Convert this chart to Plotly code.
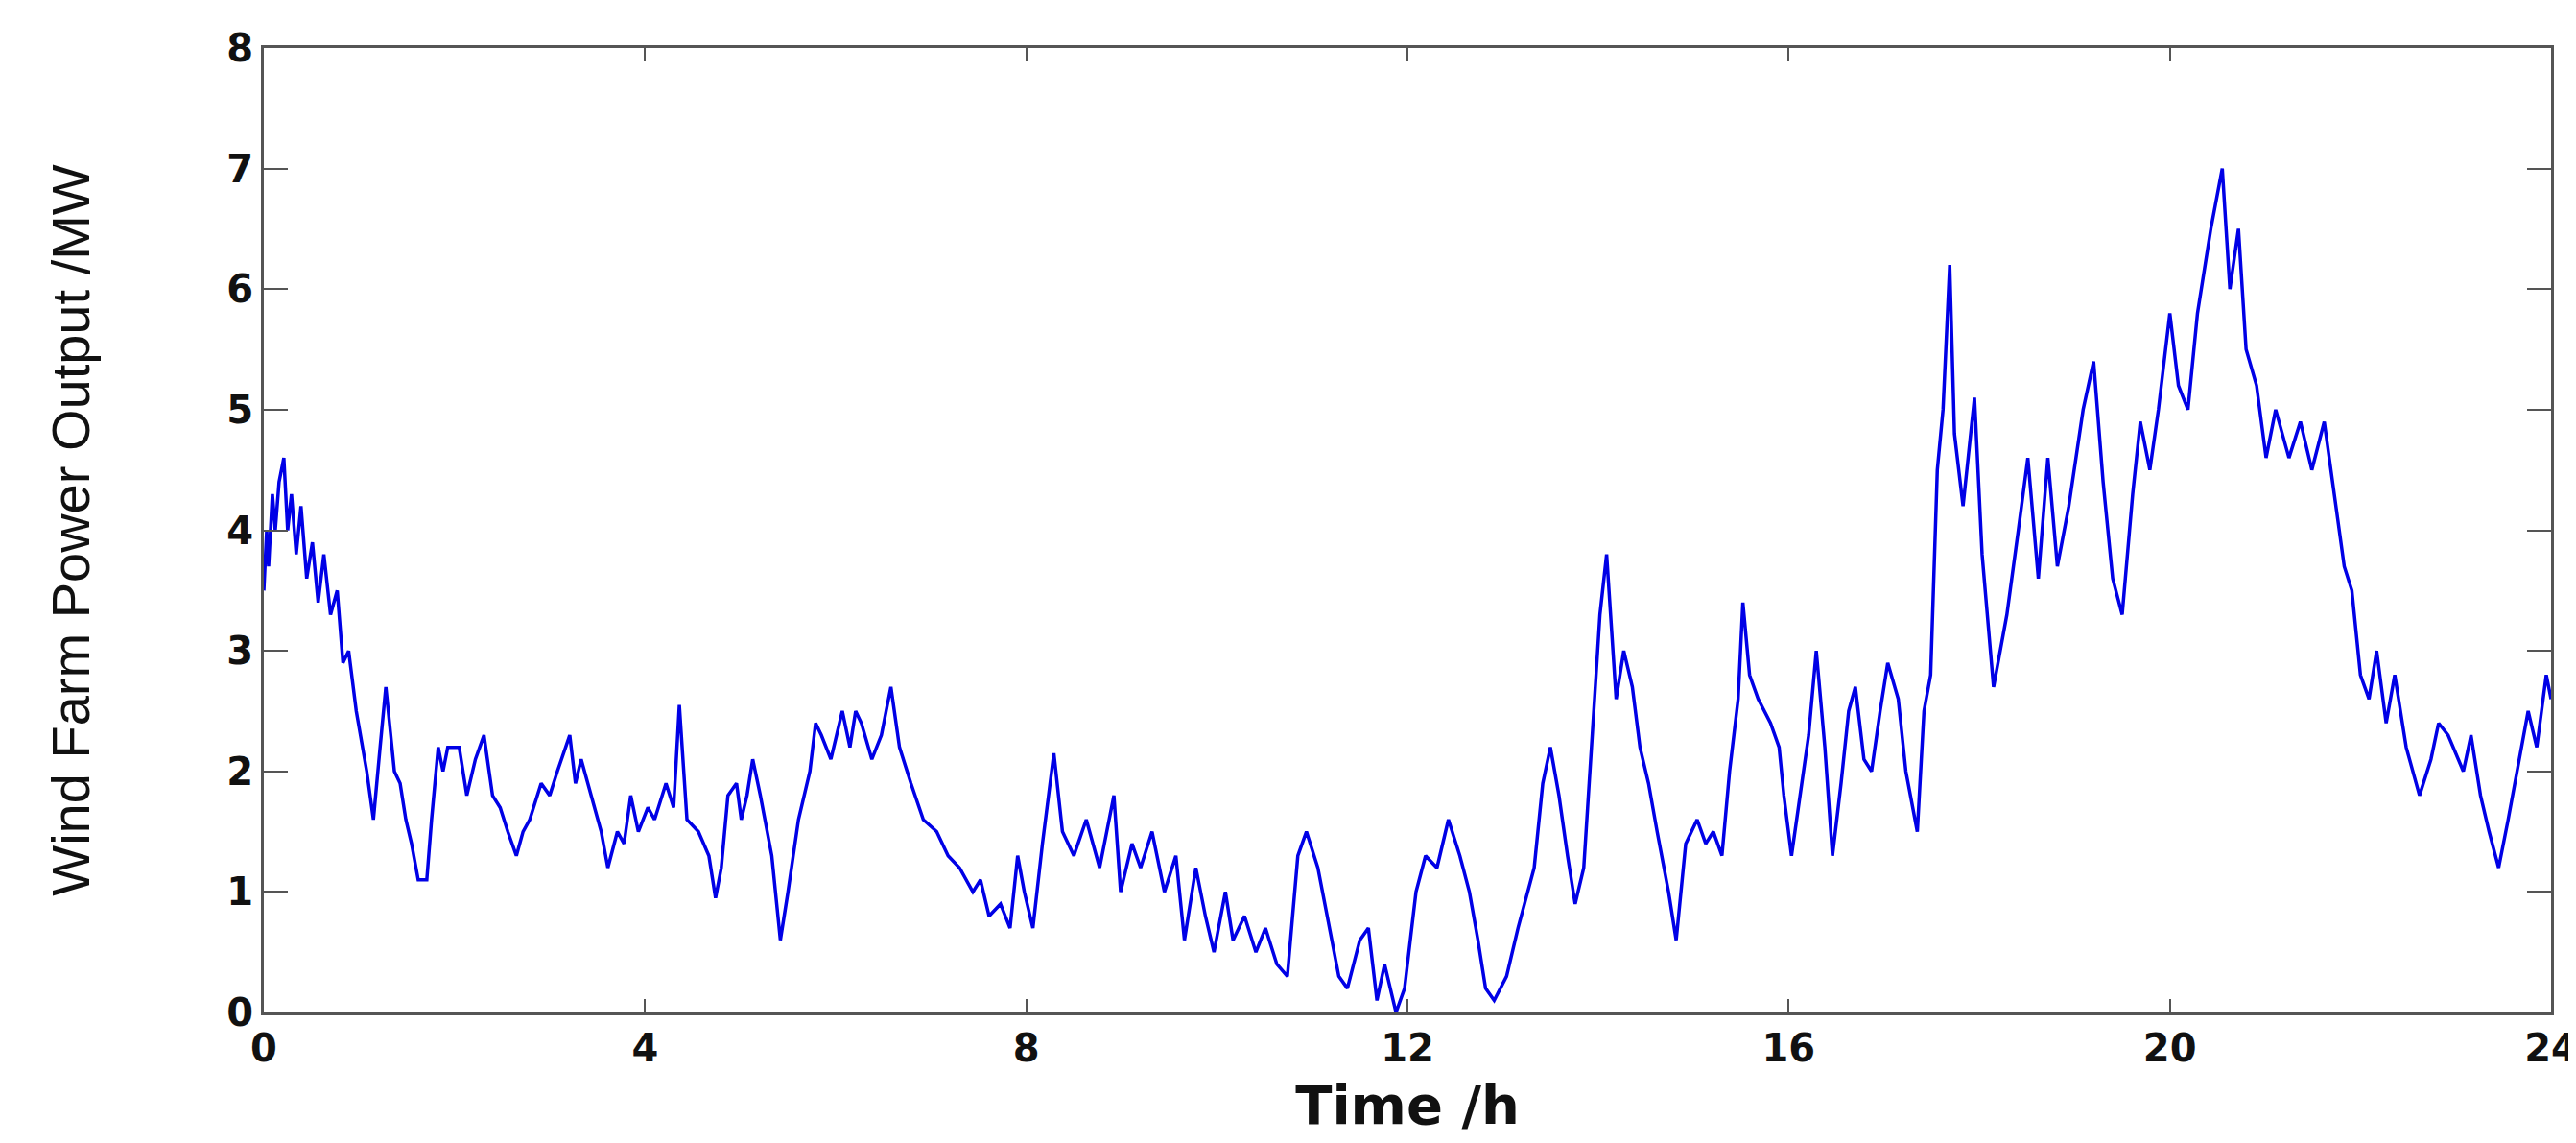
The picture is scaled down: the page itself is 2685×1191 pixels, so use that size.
import plotly.graph_objects as go

# Time (hours) and wind farm power output (MW)
time_h = [
    0.00, 0.03, 0.05, 0.09, 0.12, 0.16, 0.21, 0.25, 0.29, 0.34, 0.39, 0.45, 0.51, 0.57, 0.63, 0.70, 0.77, 0.83, 0.89, 0.97,
    1.08, 1.15, 1.22, 1.28, 1.37, 1.43, 1.49, 1.55, 1.62, 1.71, 1.76, 1.83, 1.88, 1.93,
    2.05, 2.13, 2.22, 2.31, 2.40, 2.48, 2.56, 2.65, 2.72, 2.79, 2.91,
    3.00, 3.08, 3.21, 3.27, 3.33, 3.47, 3.54, 3.61, 3.71, 3.78, 3.85, 3.93,
    4.03, 4.10, 4.22, 4.30, 4.36, 4.44, 4.56, 4.67, 4.74, 4.80, 4.87, 4.96,
    5.01, 5.07, 5.13, 5.21, 5.33, 5.42, 5.50, 5.61, 5.73, 5.79, 5.85, 5.95,
    6.07, 6.15, 6.21, 6.27, 6.38, 6.48, 6.58, 6.67, 6.79, 6.92,
    7.06, 7.18, 7.30, 7.44, 7.52, 7.61, 7.73, 7.83, 7.91, 7.98,
    8.07, 8.17, 8.29, 8.38, 8.50, 8.63, 8.77, 8.92, 8.99,
    9.11, 9.20, 9.32, 9.45, 9.57, 9.66, 9.78, 9.88, 9.97,
    10.09, 10.17, 10.29, 10.41, 10.51, 10.63, 10.74, 10.85, 10.94,
    11.06, 11.16, 11.28, 11.37, 11.50, 11.59, 11.68, 11.76, 11.88, 11.97,
    12.09, 12.19, 12.31, 12.43, 12.55, 12.65, 12.74, 12.82, 12.91,
    13.04, 13.16, 13.33, 13.42, 13.50, 13.59, 13.68, 13.76, 13.85, 13.93,
    14.02, 14.09, 14.19, 14.27, 14.36, 14.44, 14.53, 14.62, 14.74, 14.82, 14.92,
    15.04, 15.13, 15.21, 15.30, 15.38, 15.47, 15.52, 15.59, 15.68, 15.81, 15.90, 15.95,
    16.03, 16.12, 16.21, 16.29, 16.38, 16.46, 16.55, 16.63, 16.70, 16.79, 16.87, 16.96,
    17.04, 17.15, 17.23, 17.35, 17.42, 17.49, 17.56, 17.62, 17.69, 17.74, 17.83, 17.95,
    18.03, 18.15, 18.29, 18.41, 18.51, 18.62, 18.72, 18.82, 18.94,
    19.09, 19.20, 19.30, 19.40, 19.50, 19.61, 19.69, 19.79, 19.88,
    20.00, 20.09, 20.19, 20.29, 20.43, 20.55, 20.63, 20.72, 20.80, 20.91,
    21.01, 21.11, 21.25, 21.37, 21.49, 21.62, 21.74, 21.83, 21.91,
    22.00, 22.09, 22.17, 22.27, 22.36, 22.48, 22.62, 22.74, 22.82, 22.92,
    23.08, 23.16, 23.26, 23.35, 23.45, 23.55, 23.64, 23.76, 23.85, 23.95, 24.00,
]

power_mw = [
    3.5, 4.0, 3.7, 4.3, 4.0, 4.4, 4.6, 4.0, 4.3, 3.8, 4.2, 3.6, 3.9, 3.4, 3.8, 3.3, 3.5, 2.9, 3.0, 2.5,
    2.0, 1.6, 2.2, 2.7, 2.0, 1.9, 1.6, 1.4, 1.1, 1.1, 1.6, 2.2, 2.0, 2.2,
    2.2, 1.8, 2.1, 2.3, 1.8, 1.7, 1.5, 1.3, 1.5, 1.6, 1.9,
    1.8, 2.0, 2.3, 1.9, 2.1, 1.7, 1.5, 1.2, 1.5, 1.4, 1.8, 1.5,
    1.7, 1.6, 1.9, 1.7, 2.55, 1.6, 1.5, 1.3, 0.95, 1.2, 1.8, 1.9,
    1.6, 1.8, 2.1, 1.8, 1.3, 0.6, 1.0, 1.6, 2.0, 2.4, 2.3, 2.1,
    2.5, 2.2, 2.5, 2.4, 2.1, 2.3, 2.7, 2.2, 1.9, 1.6,
    1.5, 1.3, 1.2, 1.0, 1.1, 0.8, 0.9, 0.7, 1.3, 1.0,
    0.7, 1.4, 2.15, 1.5, 1.3, 1.6, 1.2, 1.8, 1.0,
    1.4, 1.2, 1.5, 1.0, 1.3, 0.6, 1.2, 0.8, 0.5,
    1.0, 0.6, 0.8, 0.5, 0.7, 0.4, 0.3, 1.3, 1.5,
    1.2, 0.8, 0.3, 0.2, 0.6, 0.7, 0.1, 0.4, 0.0, 0.2,
    1.0, 1.3, 1.2, 1.6, 1.3, 1.0, 0.6, 0.2, 0.1,
    0.3, 0.7, 1.2, 1.9, 2.2, 1.8, 1.3, 0.9, 1.2, 2.2,
    3.3, 3.8, 2.6, 3.0, 2.7, 2.2, 1.9, 1.5, 1.0, 0.6, 1.4,
    1.6, 1.4, 1.5, 1.3, 2.0, 2.6, 3.4, 2.8, 2.6, 2.4, 2.2, 1.8,
    1.3, 1.8, 2.3, 3.0, 2.2, 1.3, 1.9, 2.5, 2.7, 2.1, 2.0, 2.5,
    2.9, 2.6, 2.0, 1.5, 2.5, 2.8, 4.5, 5.0, 6.2, 4.8, 4.2, 5.1,
    3.8, 2.7, 3.3, 4.0, 4.6, 3.6, 4.6, 3.7, 4.2,
    5.0, 5.4, 4.4, 3.6, 3.3, 4.3, 4.9, 4.5, 5.0,
    5.8, 5.2, 5.0, 5.8, 6.5, 7.0, 6.0, 6.5, 5.5, 5.2,
    4.6, 5.0, 4.6, 4.9, 4.5, 4.9, 4.2, 3.7, 3.5,
    2.8, 2.6, 3.0, 2.4, 2.8, 2.2, 1.8, 2.1, 2.4, 2.3,
    2.0, 2.3, 1.8, 1.5, 1.2, 1.6, 2.0, 2.5, 2.2, 2.8, 2.6,
]

x_ticks = [0, 4, 8, 12, 16, 20, 24]
y_ticks = [0, 1, 2, 3, 4, 5, 6, 7, 8]

axis_color = "#555555"
tick_font = dict(family="DejaVu Sans", size=40, color="#111111", weight="bold")

fig = go.Figure()
fig.add_trace(go.Scatter(
    x=time_h, y=power_mw, mode="lines",
    line=dict(color="#0000e6", width=3.5),
    showlegend=False,
))

fig.update_layout(
    width=2685, height=1191,
    margin=dict(l=267, r=34, t=42, b=144),
    paper_bgcolor="white", plot_bgcolor="white",
    xaxis=dict(
        range=[0, 24], tickvals=x_ticks, ticktext=[str(v) for v in x_ticks],
        showgrid=False, zeroline=False,
        showline=True, linecolor=axis_color, linewidth=3, mirror="ticks",
        ticks="inside", ticklen=14, tickwidth=2, tickcolor=axis_color,
        tickfont=tick_font, automargin=False, ticklabeloverflow="allow",
        title=dict(text="Time /h", font=dict(family="DejaVu Sans", size=56, color="#111111", weight="bold"), standoff=18),
    ),
    yaxis=dict(
        range=[0, 8], tickvals=y_ticks, ticktext=[str(v) for v in y_ticks],
        showgrid=False, zeroline=False,
        showline=True, linecolor=axis_color, linewidth=3, mirror="ticks",
        ticks="inside", ticklen=25, tickwidth=2, tickcolor=axis_color,
        tickfont=tick_font, automargin=False, ticklabeloverflow="allow",
        title=dict(text="Wind Farm Power Output /MW", font=dict(family="Liberation Sans, Arial", size=56, color="#111111"), standoff=125),
    ),
)

fig.write_html("out.html")
